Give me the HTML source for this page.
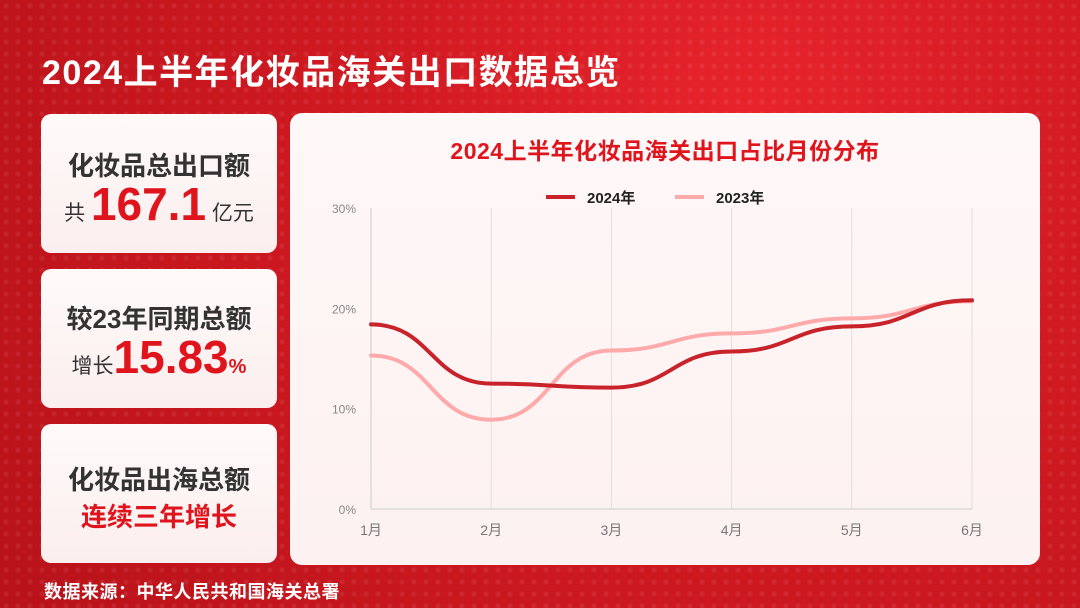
<!DOCTYPE html>
<html><head><meta charset="utf-8">
<style>
*{margin:0;padding:0;box-sizing:border-box}
body{width:1080px;height:608px;overflow:hidden;font-family:"Liberation Sans","Noto Sans CJK SC",sans-serif;
background:radial-gradient(circle at 70% 20%,#e8242c 0%,#d21a22 40%,#b8121a 100%);position:relative}
.dots{position:absolute;inset:0;background-image:radial-gradient(circle,rgba(255,255,255,0.07) 2px,transparent 3px);background-size:12px 12px}
.title{position:absolute;left:42px;top:45px;color:#fff;font-size:34px;font-weight:bold;letter-spacing:1.5px}
.card{position:absolute;left:41px;width:236px;background:linear-gradient(#fffafa,#fbeeee);border-radius:10px;text-align:center;color:#333}
.card .h{font-size:26px;font-weight:bold;color:#333;white-space:nowrap}
.big{color:#e0141c;font-weight:bold}
.panel{position:absolute;left:290px;top:113px;width:750px;height:452px;background:linear-gradient(#fff8f8,#fdf1f1);border-radius:12px}
.foot{position:absolute;left:44px;top:578px;color:#fff;font-size:18px;font-weight:bold;letter-spacing:0.5px}
</style></head><body>
<div class="dots"></div>
<div class="title">2024上半年化妆品海关出口数据总览</div>

<div class="card" style="top:114px;height:139px">
 <div class="h" style="margin-top:32px">化妆品总出口额</div>
 <div style="margin-top:-6px;font-size:21px;white-space:nowrap">共 <span class="big" style="font-size:46px">167.1</span> 亿元</div>
</div>
<div class="card" style="top:269px;height:139px">
 <div class="h" style="margin-top:30px">较23年同期总额</div>
 <div style="font-size:21px;margin-top:-6px;white-space:nowrap">增长<span class="big" style="font-size:46px">15.83</span><span class="big" style="font-size:20px">%</span></div>
</div>
<div class="card" style="top:424px;height:139px">
 <div class="h" style="margin-top:36px">化妆品出海总额</div>
 <div class="h" style="color:#e0141c;margin-top:0px">连续三年增长</div>
</div>

<div class="panel">
<svg id="chart" width="750" height="452">
 <text x="375" y="46" text-anchor="middle" font-size="23" font-weight="bold" fill="#e0141c" letter-spacing="0.5" font-family="Liberation Sans,Noto Sans CJK SC,sans-serif">2024上半年化妆品海关出口占比月份分布</text>
 <g>
  <line x1="256" y1="84" x2="285" y2="84" stroke="#c8232b" stroke-width="4"/>
  <text x="297" y="90" font-size="15" font-weight="bold" fill="#222" font-family="Liberation Sans,Noto Sans CJK SC,sans-serif">2024年</text>
  <line x1="385" y1="84" x2="414" y2="84" stroke="#ffaaaa" stroke-width="4"/>
  <text x="426" y="90" font-size="15" font-weight="bold" fill="#222" font-family="Liberation Sans,Noto Sans CJK SC,sans-serif">2023年</text>
 </g>
</svg>
</div>
<div class="foot">数据来源：中华人民共和国海关总署</div>

<script>
const months=['1月','2月','3月','4月','5月','6月'];
const yTicks=[0,10,20,30];
const s2024=[18.4,12.5,12.1,15.7,18.2,20.8];
const s2023=[15.3,8.9,15.8,17.5,19.0,20.7];
const svg=document.getElementById('chart');
const NS='http://www.w3.org/2000/svg';
const x0=81,x1=682,yb=396,yt=95;
const xs=i=>x0+(x1-x0)*i/(months.length-1);
const ys=v=>yb-(yb-yt)*v/30;
function el(t,a){const e=document.createElementNS(NS,t);for(const k in a)e.setAttribute(k,a[k]);svg.appendChild(e);return e;}
months.forEach((m,i)=>{
 const g=el('line',{x1:xs(i),x2:xs(i),y1:yt,y2:yb,stroke:i==0?'#cccccc':'#e2dede','stroke-width':1});
 
 
 const t=el('text',{x:xs(i),y:yb+26,'text-anchor':'middle','font-size':14,fill:'#777','font-family':'Liberation Sans,Noto Sans CJK SC,sans-serif'});
 t.textContent=m;
 
 
});
const ax=el('line',{x1:x0,x2:x1,y1:yb,y2:yb,stroke:'#cccccc','stroke-width':1});


yTicks.forEach(v=>{
 const t=el('text',{x:x0-15,y:ys(v)+5,'text-anchor':'end','font-size':12,fill:'#888','font-family':'Liberation Sans,sans-serif'});
 t.textContent=v+'%';
 
 
});
function path(d){let p='M'+xs(0)+','+ys(d[0]);for(let i=1;i<d.length;i++){const xa=xs(i-1),xb=xs(i),m=(xa+xb)/2;p+=' C'+m+','+ys(d[i-1])+' '+m+','+ys(d[i])+' '+xb+','+ys(d[i]);}return p;}
const l23=el('path',{d:path(s2023),fill:'none',stroke:'#ffaaaa','stroke-width':4,'stroke-linecap':'round'});


const l24=el('path',{d:path(s2024),fill:'none',stroke:'#c8232b','stroke-width':4,'stroke-linecap':'round'});


</script>
</body></html>
